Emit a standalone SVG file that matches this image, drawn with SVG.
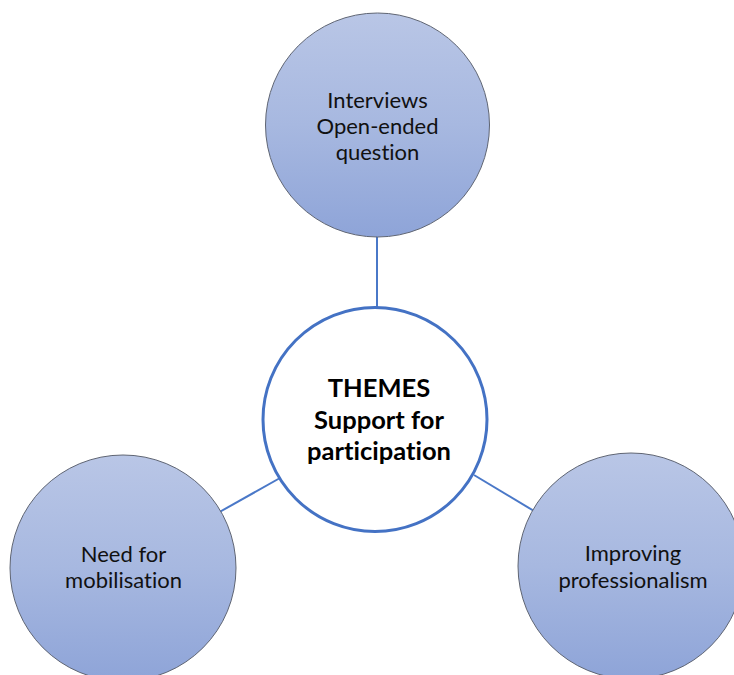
<svg xmlns="http://www.w3.org/2000/svg" width="734" height="675" viewBox="0 0 734 675">
  <defs>
    <linearGradient id="grad" x1="0" y1="0" x2="0" y2="1">
      <stop offset="0" stop-color="#b9c6e6"/>
      <stop offset="0.5" stop-color="#a7b8e0"/>
      <stop offset="1" stop-color="#8ea4d8"/>
    </linearGradient>
  </defs>
  <style>
    .outer { fill: url(#grad); stroke: #5f6573; stroke-width: 1; }
    .center { fill: #ffffff; stroke: #4472c4; stroke-width: 3; }
    .conn { stroke: #4a78c8; stroke-width: 2; fill: none; }
    text { font-variant-ligatures: none; font-feature-settings: "liga" 0; }
    .lbl { font-family: Lato, "Liberation Sans", sans-serif; font-size: 22px; fill: #111111; text-anchor: middle; }
    .bold { font-family: Lato, "Liberation Sans", sans-serif; font-size: 25.5px; font-weight: bold; fill: #000000; text-anchor: middle; }
  </style>
  <g id="connectors">
    <line class="conn" x1="377" y1="236" x2="377" y2="307"/>
    <line class="conn" x1="216" y1="514" x2="280" y2="478"/>
    <line class="conn" x1="474" y1="475" x2="534" y2="511"/>
  </g>
  <g id="node-top">
    <circle class="outer" cx="377.5" cy="125" r="112"/>
    <text class="lbl" x="377.5" y="108">Interviews</text>
    <text class="lbl" x="377.5" y="134">Open-ended</text>
    <text class="lbl" x="377.5" y="160">question</text>
  </g>
  <g id="node-center">
    <circle class="center" cx="375" cy="419.5" r="112"/>
    <text class="bold" x="379" y="397">THEMES</text>
    <text class="bold" x="379" y="428.5">Support for</text>
    <text class="bold" x="379" y="460">participation</text>
  </g>
  <g id="node-left">
    <circle class="outer" cx="123" cy="568" r="113"/>
    <text class="lbl" x="123.5" y="562">Need for</text>
    <text class="lbl" x="123.5" y="588">mobilisation</text>
  </g>
  <g id="node-right">
    <circle class="outer" cx="631" cy="566" r="113"/>
    <text class="lbl" x="633" y="561">Improving</text>
    <text class="lbl" x="633" y="588">professionalism</text>
  </g>
</svg>
